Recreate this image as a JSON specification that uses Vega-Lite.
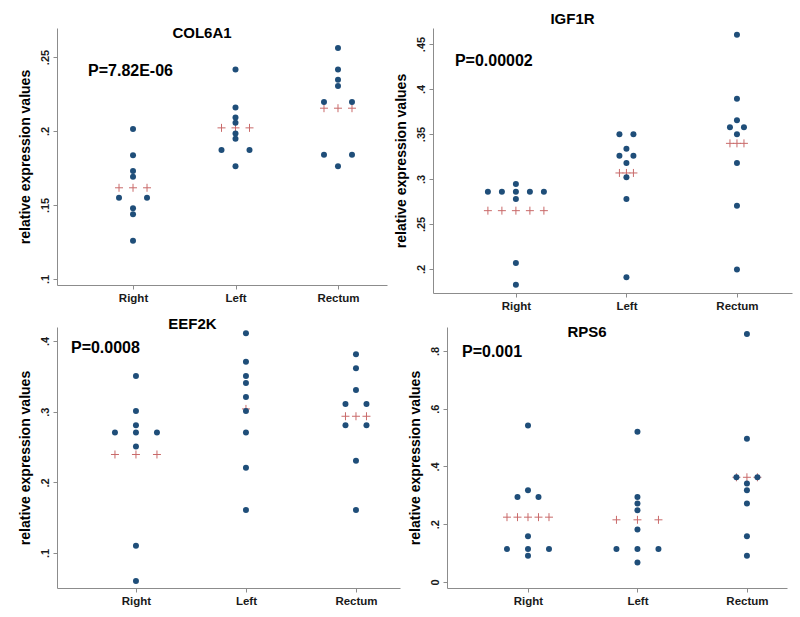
{
  "$schema": "https://vega.github.io/schema/vega-lite/v6.json",
  "background": "white",
  "padding": {"left": 18, "top": 12, "right": 5, "bottom": 5},
  "bounds": "full",
  "spacing": 5,
  "config": {
    "view": {"stroke": null},
    "font": "Liberation Sans",
    "axis": {"domainColor": "#8c8c8c", "tickColor": "#8c8c8c", "grid": false, "labelFont": "Liberation Sans", "labelFontWeight": "bold", "labelColor": "#1a1a1a", "titleFont": "Liberation Sans", "titleFontWeight": "bold", "titleColor": "#000000", "tickSize": 4},
    "axisX": {"labelFontSize": 11.5, "labelPadding": 3, "labelAngle": 0, "title": null},
    "axisY": {"labelFontSize": 11, "labelAngle": 270, "labelAlign": "center", "labelBaseline": "bottom", "labelPadding": 3, "titleFontSize": 14, "titlePadding": 7},
    "title": {"font": "Liberation Sans", "fontSize": 15, "fontWeight": "bold", "color": "#000000", "frame": "group", "anchor": "middle"}
  },
  "datasets": {
    "expr": [
      {"gene": "COL6A1", "kind": "obs", "group": "Right", "col": 0, "value": 0.2013},
      {"gene": "COL6A1", "kind": "obs", "group": "Right", "col": 0, "value": 0.1836},
      {"gene": "COL6A1", "kind": "obs", "group": "Right", "col": 0, "value": 0.1729},
      {"gene": "COL6A1", "kind": "obs", "group": "Right", "col": 0, "value": 0.1690},
      {"gene": "COL6A1", "kind": "obs", "group": "Right", "col": -2, "value": 0.1549},
      {"gene": "COL6A1", "kind": "obs", "group": "Right", "col": 2, "value": 0.1549},
      {"gene": "COL6A1", "kind": "obs", "group": "Right", "col": 0, "value": 0.1477},
      {"gene": "COL6A1", "kind": "obs", "group": "Right", "col": 0, "value": 0.1438},
      {"gene": "COL6A1", "kind": "obs", "group": "Right", "col": 0, "value": 0.1258},
      {"gene": "COL6A1", "kind": "mean", "group": "Right", "col": -2, "value": 0.1616},
      {"gene": "COL6A1", "kind": "mean", "group": "Right", "col": 0, "value": 0.1616},
      {"gene": "COL6A1", "kind": "mean", "group": "Right", "col": 2, "value": 0.1616},
      {"gene": "COL6A1", "kind": "obs", "group": "Left", "col": 0, "value": 0.2415},
      {"gene": "COL6A1", "kind": "obs", "group": "Left", "col": 0, "value": 0.2158},
      {"gene": "COL6A1", "kind": "obs", "group": "Left", "col": 0, "value": 0.2091},
      {"gene": "COL6A1", "kind": "obs", "group": "Left", "col": 0, "value": 0.2055},
      {"gene": "COL6A1", "kind": "obs", "group": "Left", "col": 0, "value": 0.1983},
      {"gene": "COL6A1", "kind": "obs", "group": "Left", "col": 0, "value": 0.1947},
      {"gene": "COL6A1", "kind": "obs", "group": "Left", "col": -2, "value": 0.1872},
      {"gene": "COL6A1", "kind": "obs", "group": "Left", "col": 2, "value": 0.1872},
      {"gene": "COL6A1", "kind": "obs", "group": "Left", "col": 0, "value": 0.1762},
      {"gene": "COL6A1", "kind": "mean", "group": "Left", "col": -2, "value": 0.2021},
      {"gene": "COL6A1", "kind": "mean", "group": "Left", "col": 0, "value": 0.2021},
      {"gene": "COL6A1", "kind": "mean", "group": "Left", "col": 2, "value": 0.2021},
      {"gene": "COL6A1", "kind": "obs", "group": "Rectum", "col": 0, "value": 0.2561},
      {"gene": "COL6A1", "kind": "obs", "group": "Rectum", "col": 0, "value": 0.2415},
      {"gene": "COL6A1", "kind": "obs", "group": "Rectum", "col": 0, "value": 0.2347},
      {"gene": "COL6A1", "kind": "obs", "group": "Rectum", "col": 0, "value": 0.2304},
      {"gene": "COL6A1", "kind": "obs", "group": "Rectum", "col": -2, "value": 0.2196},
      {"gene": "COL6A1", "kind": "obs", "group": "Rectum", "col": 2, "value": 0.2196},
      {"gene": "COL6A1", "kind": "obs", "group": "Rectum", "col": -2, "value": 0.1839},
      {"gene": "COL6A1", "kind": "obs", "group": "Rectum", "col": 2, "value": 0.1839},
      {"gene": "COL6A1", "kind": "obs", "group": "Rectum", "col": 0, "value": 0.1762},
      {"gene": "COL6A1", "kind": "mean", "group": "Rectum", "col": -2, "value": 0.2154},
      {"gene": "COL6A1", "kind": "mean", "group": "Rectum", "col": 0, "value": 0.2154},
      {"gene": "COL6A1", "kind": "mean", "group": "Rectum", "col": 2, "value": 0.2154},
      {"gene": "COL6A1", "kind": "note", "group": "Right", "value": 0.2405, "label": "P=7.82E-06"},

      {"gene": "IGF1R", "kind": "obs", "group": "Right", "col": 0, "value": 0.2944},
      {"gene": "IGF1R", "kind": "obs", "group": "Right", "col": -4, "value": 0.2859},
      {"gene": "IGF1R", "kind": "obs", "group": "Right", "col": -2, "value": 0.2859},
      {"gene": "IGF1R", "kind": "obs", "group": "Right", "col": 0, "value": 0.2859},
      {"gene": "IGF1R", "kind": "obs", "group": "Right", "col": 2, "value": 0.2859},
      {"gene": "IGF1R", "kind": "obs", "group": "Right", "col": 4, "value": 0.2859},
      {"gene": "IGF1R", "kind": "obs", "group": "Right", "col": 0, "value": 0.2778},
      {"gene": "IGF1R", "kind": "obs", "group": "Right", "col": 0, "value": 0.2067},
      {"gene": "IGF1R", "kind": "obs", "group": "Right", "col": 0, "value": 0.1826},
      {"gene": "IGF1R", "kind": "mean", "group": "Right", "col": -4, "value": 0.2648},
      {"gene": "IGF1R", "kind": "mean", "group": "Right", "col": -2, "value": 0.2648},
      {"gene": "IGF1R", "kind": "mean", "group": "Right", "col": 0, "value": 0.2648},
      {"gene": "IGF1R", "kind": "mean", "group": "Right", "col": 2, "value": 0.2648},
      {"gene": "IGF1R", "kind": "mean", "group": "Right", "col": 4, "value": 0.2648},
      {"gene": "IGF1R", "kind": "obs", "group": "Left", "col": -1, "value": 0.3496},
      {"gene": "IGF1R", "kind": "obs", "group": "Left", "col": 1, "value": 0.3496},
      {"gene": "IGF1R", "kind": "obs", "group": "Left", "col": 0, "value": 0.3337},
      {"gene": "IGF1R", "kind": "obs", "group": "Left", "col": -1, "value": 0.3259},
      {"gene": "IGF1R", "kind": "obs", "group": "Left", "col": 1, "value": 0.3259},
      {"gene": "IGF1R", "kind": "obs", "group": "Left", "col": 0, "value": 0.3178},
      {"gene": "IGF1R", "kind": "obs", "group": "Left", "col": 0, "value": 0.3019},
      {"gene": "IGF1R", "kind": "obs", "group": "Left", "col": 0, "value": 0.2778},
      {"gene": "IGF1R", "kind": "obs", "group": "Left", "col": 0, "value": 0.1907},
      {"gene": "IGF1R", "kind": "mean", "group": "Left", "col": -1, "value": 0.3067},
      {"gene": "IGF1R", "kind": "mean", "group": "Left", "col": 0, "value": 0.3067},
      {"gene": "IGF1R", "kind": "mean", "group": "Left", "col": 1, "value": 0.3067},
      {"gene": "IGF1R", "kind": "obs", "group": "Rectum", "col": 0, "value": 0.4604},
      {"gene": "IGF1R", "kind": "obs", "group": "Rectum", "col": 0, "value": 0.3893},
      {"gene": "IGF1R", "kind": "obs", "group": "Rectum", "col": 0, "value": 0.3652},
      {"gene": "IGF1R", "kind": "obs", "group": "Rectum", "col": -1, "value": 0.3574},
      {"gene": "IGF1R", "kind": "obs", "group": "Rectum", "col": 1, "value": 0.3574},
      {"gene": "IGF1R", "kind": "obs", "group": "Rectum", "col": 0, "value": 0.3496},
      {"gene": "IGF1R", "kind": "obs", "group": "Rectum", "col": 0, "value": 0.3178},
      {"gene": "IGF1R", "kind": "obs", "group": "Rectum", "col": 0, "value": 0.2704},
      {"gene": "IGF1R", "kind": "obs", "group": "Rectum", "col": 0, "value": 0.1993},
      {"gene": "IGF1R", "kind": "mean", "group": "Rectum", "col": -1, "value": 0.3396},
      {"gene": "IGF1R", "kind": "mean", "group": "Rectum", "col": 0, "value": 0.3396},
      {"gene": "IGF1R", "kind": "mean", "group": "Rectum", "col": 1, "value": 0.3396},
      {"gene": "IGF1R", "kind": "note", "group": "Right", "value": 0.4311, "label": "P=0.00002"},

      {"gene": "EEF2K", "kind": "obs", "group": "Right", "col": 0, "value": 0.3505},
      {"gene": "EEF2K", "kind": "obs", "group": "Right", "col": 0, "value": 0.3011},
      {"gene": "EEF2K", "kind": "obs", "group": "Right", "col": 0, "value": 0.2808},
      {"gene": "EEF2K", "kind": "obs", "group": "Right", "col": -3, "value": 0.2705},
      {"gene": "EEF2K", "kind": "obs", "group": "Right", "col": 0, "value": 0.2705},
      {"gene": "EEF2K", "kind": "obs", "group": "Right", "col": 3, "value": 0.2705},
      {"gene": "EEF2K", "kind": "obs", "group": "Right", "col": 0, "value": 0.2507},
      {"gene": "EEF2K", "kind": "obs", "group": "Right", "col": 0, "value": 0.1103},
      {"gene": "EEF2K", "kind": "obs", "group": "Right", "col": 0, "value": 0.0603},
      {"gene": "EEF2K", "kind": "mean", "group": "Right", "col": -3, "value": 0.2394},
      {"gene": "EEF2K", "kind": "mean", "group": "Right", "col": 0, "value": 0.2394},
      {"gene": "EEF2K", "kind": "mean", "group": "Right", "col": 3, "value": 0.2394},
      {"gene": "EEF2K", "kind": "obs", "group": "Left", "col": 0, "value": 0.4108},
      {"gene": "EEF2K", "kind": "obs", "group": "Left", "col": 0, "value": 0.3708},
      {"gene": "EEF2K", "kind": "obs", "group": "Left", "col": 0, "value": 0.3505},
      {"gene": "EEF2K", "kind": "obs", "group": "Left", "col": 0, "value": 0.3406},
      {"gene": "EEF2K", "kind": "obs", "group": "Left", "col": 0, "value": 0.3209},
      {"gene": "EEF2K", "kind": "obs", "group": "Left", "col": 0, "value": 0.3011},
      {"gene": "EEF2K", "kind": "obs", "group": "Left", "col": 0, "value": 0.2705},
      {"gene": "EEF2K", "kind": "obs", "group": "Left", "col": 0, "value": 0.2205},
      {"gene": "EEF2K", "kind": "obs", "group": "Left", "col": 0, "value": 0.1607},
      {"gene": "EEF2K", "kind": "mean", "group": "Left", "col": 0, "value": 0.3039},
      {"gene": "EEF2K", "kind": "obs", "group": "Rectum", "col": 0, "value": 0.3812},
      {"gene": "EEF2K", "kind": "obs", "group": "Rectum", "col": 0, "value": 0.3614},
      {"gene": "EEF2K", "kind": "obs", "group": "Rectum", "col": 0, "value": 0.3308},
      {"gene": "EEF2K", "kind": "obs", "group": "Rectum", "col": -1.5, "value": 0.3110},
      {"gene": "EEF2K", "kind": "obs", "group": "Rectum", "col": 1.5, "value": 0.3110},
      {"gene": "EEF2K", "kind": "obs", "group": "Rectum", "col": -1.5, "value": 0.2808},
      {"gene": "EEF2K", "kind": "obs", "group": "Rectum", "col": 1.5, "value": 0.2808},
      {"gene": "EEF2K", "kind": "obs", "group": "Rectum", "col": 0, "value": 0.2304},
      {"gene": "EEF2K", "kind": "obs", "group": "Rectum", "col": 0, "value": 0.1607},
      {"gene": "EEF2K", "kind": "mean", "group": "Rectum", "col": -1.5, "value": 0.2935},
      {"gene": "EEF2K", "kind": "mean", "group": "Rectum", "col": 0, "value": 0.2935},
      {"gene": "EEF2K", "kind": "mean", "group": "Rectum", "col": 1.5, "value": 0.2935},
      {"gene": "EEF2K", "kind": "note", "group": "Right", "value": 0.390, "label": "P=0.0008"},

      {"gene": "RPS6", "kind": "obs", "group": "Right", "col": 0, "value": 0.5422},
      {"gene": "RPS6", "kind": "obs", "group": "Right", "col": 0, "value": 0.3177},
      {"gene": "RPS6", "kind": "obs", "group": "Right", "col": -1.5, "value": 0.2947},
      {"gene": "RPS6", "kind": "obs", "group": "Right", "col": 1.5, "value": 0.2947},
      {"gene": "RPS6", "kind": "obs", "group": "Right", "col": 0, "value": 0.1588},
      {"gene": "RPS6", "kind": "obs", "group": "Right", "col": -3, "value": 0.1140},
      {"gene": "RPS6", "kind": "obs", "group": "Right", "col": 0, "value": 0.1140},
      {"gene": "RPS6", "kind": "obs", "group": "Right", "col": 3, "value": 0.1140},
      {"gene": "RPS6", "kind": "obs", "group": "Right", "col": 0, "value": 0.0909},
      {"gene": "RPS6", "kind": "mean", "group": "Right", "col": -3, "value": 0.2245},
      {"gene": "RPS6", "kind": "mean", "group": "Right", "col": -1.5, "value": 0.2245},
      {"gene": "RPS6", "kind": "mean", "group": "Right", "col": 0, "value": 0.2245},
      {"gene": "RPS6", "kind": "mean", "group": "Right", "col": 1.5, "value": 0.2245},
      {"gene": "RPS6", "kind": "mean", "group": "Right", "col": 3, "value": 0.2245},
      {"gene": "RPS6", "kind": "obs", "group": "Left", "col": 0, "value": 0.5203},
      {"gene": "RPS6", "kind": "obs", "group": "Left", "col": 0, "value": 0.2947},
      {"gene": "RPS6", "kind": "obs", "group": "Left", "col": 0, "value": 0.2717},
      {"gene": "RPS6", "kind": "obs", "group": "Left", "col": 0, "value": 0.2486},
      {"gene": "RPS6", "kind": "obs", "group": "Left", "col": 0, "value": 0.1819},
      {"gene": "RPS6", "kind": "obs", "group": "Left", "col": -3, "value": 0.1140},
      {"gene": "RPS6", "kind": "obs", "group": "Left", "col": 0, "value": 0.1140},
      {"gene": "RPS6", "kind": "obs", "group": "Left", "col": 3, "value": 0.1140},
      {"gene": "RPS6", "kind": "obs", "group": "Left", "col": 0, "value": 0.0679},
      {"gene": "RPS6", "kind": "mean", "group": "Left", "col": -3, "value": 0.2153},
      {"gene": "RPS6", "kind": "mean", "group": "Left", "col": 0, "value": 0.2153},
      {"gene": "RPS6", "kind": "mean", "group": "Left", "col": 3, "value": 0.2153},
      {"gene": "RPS6", "kind": "obs", "group": "Rectum", "col": 0, "value": 0.8587},
      {"gene": "RPS6", "kind": "obs", "group": "Rectum", "col": 0, "value": 0.4961},
      {"gene": "RPS6", "kind": "obs", "group": "Rectum", "col": -1.5, "value": 0.3626},
      {"gene": "RPS6", "kind": "obs", "group": "Rectum", "col": 1.5, "value": 0.3626},
      {"gene": "RPS6", "kind": "obs", "group": "Rectum", "col": 0, "value": 0.3407},
      {"gene": "RPS6", "kind": "obs", "group": "Rectum", "col": 0, "value": 0.3177},
      {"gene": "RPS6", "kind": "obs", "group": "Rectum", "col": 0, "value": 0.2717},
      {"gene": "RPS6", "kind": "obs", "group": "Rectum", "col": 0, "value": 0.1588},
      {"gene": "RPS6", "kind": "obs", "group": "Rectum", "col": 0, "value": 0.0909},
      {"gene": "RPS6", "kind": "mean", "group": "Rectum", "col": -1.5, "value": 0.3626},
      {"gene": "RPS6", "kind": "mean", "group": "Rectum", "col": 0, "value": 0.3626},
      {"gene": "RPS6", "kind": "mean", "group": "Rectum", "col": 1.5, "value": 0.3626},
      {"gene": "RPS6", "kind": "note", "group": "Right", "value": 0.7948, "label": "P=0.001"}
    ]
  },
  "data": {"name": "expr"},
  "vconcat": [
    {
      "bounds": "flush",
      "spacing": 46,
      "hconcat": [
        {
          "width": 330, "height": 257,
          "title": {"text": "COL6A1", "dx": -20, "offset": -13},
          "transform": [{"filter": "datum.gene == 'COL6A1'"}],
          "encoding": {
            "x": {"field": "group", "type": "nominal", "scale": {"type": "point", "domain": ["Right", "Left", "Rectum"], "padding": 0.61, "align": 0.608}},
            "y": {"field": "value", "type": "quantitative", "title": "relative expression values", "scale": {"domain": [0.0959, 0.2696], "nice": false, "zero": false}, "axis": {"values": [0.1, 0.15, 0.2, 0.25], "labelExpr": "replace(format(datum.value, '~g'), '0.', '.')"}}
          },
          "layer": [
            {"transform": [{"filter": "datum.kind == 'mean'"}], "mark": {"type": "point", "shape": "M-1,0H1M0,-1V1", "filled": false, "stroke": "#c96a6a", "strokeWidth": 1, "size": 64, "opacity": 1}, "encoding": {"xOffset": {"field": "col", "type": "quantitative", "scale": {"domain": [-4, 4], "range": [-28, 28]}}}},
            {"transform": [{"filter": "datum.kind == 'obs'"}], "mark": {"type": "circle", "color": "#1f4e79", "size": 36, "opacity": 1}, "encoding": {"xOffset": {"field": "col", "type": "quantitative", "scale": {"domain": [-4, 4], "range": [-28, 28]}}}},
            {"transform": [{"filter": "datum.kind == 'note'"}], "mark": {"type": "text", "align": "left", "baseline": "middle", "dx": -45, "fontSize": 16, "fontWeight": "bold", "font": "Liberation Sans", "color": "#000000"}, "encoding": {"text": {"field": "label"}}}
          ]
        },
        {
          "width": 359, "height": 265,
          "title": {"text": "IGF1R", "dx": -40, "offset": 1},
          "transform": [{"filter": "datum.gene == 'IGF1R'"}],
          "encoding": {
            "x": {"field": "group", "type": "nominal", "scale": {"type": "point", "domain": ["Right", "Left", "Rectum"], "padding": 0.624, "align": 0.601}},
            "y": {"field": "value", "type": "quantitative", "title": "relative expression values", "scale": {"domain": [0.1733, 0.4678], "nice": false, "zero": false}, "axis": {"values": [0.2, 0.25, 0.3, 0.35, 0.4, 0.45], "labelExpr": "replace(format(datum.value, '~g'), '0.', '.')"}}
          },
          "layer": [
            {"transform": [{"filter": "datum.kind == 'mean'"}], "mark": {"type": "point", "shape": "M-1,0H1M0,-1V1", "filled": false, "stroke": "#c96a6a", "strokeWidth": 1, "size": 64, "opacity": 1}, "encoding": {"xOffset": {"field": "col", "type": "quantitative", "scale": {"domain": [-4, 4], "range": [-28, 28]}}}},
            {"transform": [{"filter": "datum.kind == 'obs'"}], "mark": {"type": "circle", "color": "#1f4e79", "size": 36, "opacity": 1}, "encoding": {"xOffset": {"field": "col", "type": "quantitative", "scale": {"domain": [-4, 4], "range": [-28, 28]}}}},
            {"transform": [{"filter": "datum.kind == 'note'"}], "mark": {"type": "text", "align": "left", "baseline": "middle", "dx": -61, "fontSize": 16, "fontWeight": "bold", "font": "Liberation Sans", "color": "#000000"}, "encoding": {"text": {"field": "label"}}}
          ]
        }
      ]
    },
    {
      "bounds": "flush",
      "spacing": 47,
      "hconcat": [
        {
          "width": 343, "height": 261,
          "title": {"text": "EEF2K", "dx": -36, "offset": -5},
          "transform": [{"filter": "datum.gene == 'EEF2K'"}],
          "encoding": {
            "x": {"field": "group", "type": "nominal", "scale": {"type": "point", "domain": ["Right", "Left", "Rectum"], "padding": 0.559, "align": 0.642}},
            "y": {"field": "value", "type": "quantitative", "title": "relative expression values", "scale": {"domain": [0.0505, 0.4198], "nice": false, "zero": false}, "axis": {"values": [0.1, 0.2, 0.3, 0.4], "labelExpr": "replace(format(datum.value, '~g'), '0.', '.')"}}
          },
          "layer": [
            {"transform": [{"filter": "datum.kind == 'mean'"}], "mark": {"type": "point", "shape": "M-1,0H1M0,-1V1", "filled": false, "stroke": "#c96a6a", "strokeWidth": 1, "size": 64, "opacity": 1}, "encoding": {"xOffset": {"field": "col", "type": "quantitative", "scale": {"domain": [-4, 4], "range": [-28, 28]}}}},
            {"transform": [{"filter": "datum.kind == 'obs'"}], "mark": {"type": "circle", "color": "#1f4e79", "size": 36, "opacity": 1}, "encoding": {"xOffset": {"field": "col", "type": "quantitative", "scale": {"domain": [-4, 4], "range": [-28, 28]}}}},
            {"transform": [{"filter": "datum.kind == 'note'"}], "mark": {"type": "text", "align": "left", "baseline": "middle", "dx": -65, "fontSize": 16, "fontWeight": "bold", "font": "Liberation Sans", "color": "#000000"}, "encoding": {"text": {"field": "label"}}}
          ]
        },
        {
          "width": 340, "height": 261,
          "title": {"text": "RPS6", "dx": -30, "offset": -13},
          "transform": [{"filter": "datum.gene == 'RPS6'"}],
          "encoding": {
            "x": {"field": "group", "type": "nominal", "scale": {"type": "point", "domain": ["Right", "Left", "Rectum"], "padding": 0.553, "align": 0.669}},
            "y": {"field": "value", "type": "quantitative", "title": "relative expression values", "scale": {"domain": [-0.0208, 0.8831], "nice": false, "zero": false}, "axis": {"values": [0, 0.2, 0.4, 0.6, 0.8], "labelExpr": "replace(format(datum.value, '~g'), '0.', '.')"}}
          },
          "layer": [
            {"transform": [{"filter": "datum.kind == 'mean'"}], "mark": {"type": "point", "shape": "M-1,0H1M0,-1V1", "filled": false, "stroke": "#c96a6a", "strokeWidth": 1, "size": 64, "opacity": 1}, "encoding": {"xOffset": {"field": "col", "type": "quantitative", "scale": {"domain": [-4, 4], "range": [-28, 28]}}}},
            {"transform": [{"filter": "datum.kind == 'obs'"}], "mark": {"type": "circle", "color": "#1f4e79", "size": 36, "opacity": 1}, "encoding": {"xOffset": {"field": "col", "type": "quantitative", "scale": {"domain": [-4, 4], "range": [-28, 28]}}}},
            {"transform": [{"filter": "datum.kind == 'note'"}], "mark": {"type": "text", "align": "left", "baseline": "middle", "dx": -66, "fontSize": 16, "fontWeight": "bold", "font": "Liberation Sans", "color": "#000000"}, "encoding": {"text": {"field": "label"}}}
          ]
        }
      ]
    }
  ]
}
